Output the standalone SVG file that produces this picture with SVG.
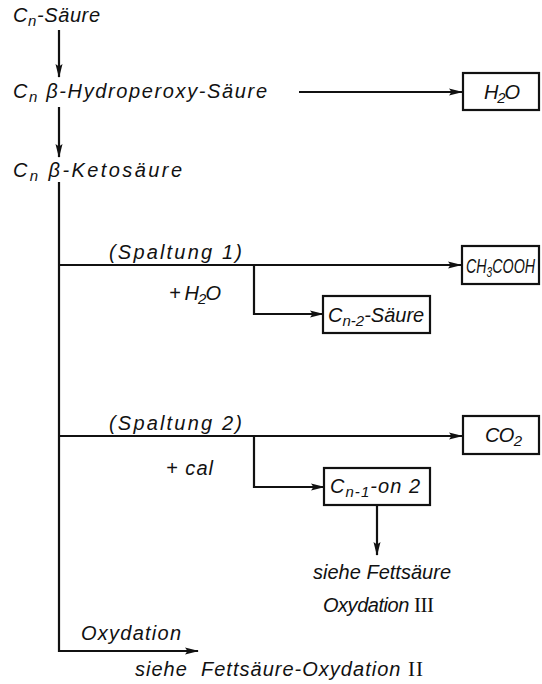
<svg xmlns="http://www.w3.org/2000/svg" width="542" height="684" viewBox="0 0 542 684">
<style>
text{font-family:"Liberation Sans",Arial,sans-serif;font-style:italic;font-size:20px;fill:#111;}
.s{font-size:15px;}
.rn{font-family:"Liberation Serif","Times New Roman",serif;font-style:normal;font-size:21px;}
.ln{stroke:#111;stroke-width:2.2;fill:none;}
.bx{stroke:#111;stroke-width:2.2;fill:#fff;}
</style>
<defs>
<marker id="ah" viewBox="0 0 14 9" refX="13" refY="4.5" markerWidth="14" markerHeight="9" markerUnits="userSpaceOnUse" orient="auto">
<path d="M0,1 L14,4.5 L0,8 L2.5,4.5 Z" fill="#111"/>
</marker>
</defs>
<g id="connectors">
<line class="ln" x1="59" y1="30" x2="59" y2="77" marker-end="url(#ah)"/>
<line class="ln" x1="59" y1="107" x2="59" y2="157" marker-end="url(#ah)"/>
<line class="ln" x1="299" y1="92" x2="462" y2="92" marker-end="url(#ah)"/>
<polyline class="ln" points="59,182 59,651 198,651" marker-end="url(#ah)"/>
<line class="ln" x1="59" y1="265" x2="461" y2="265" marker-end="url(#ah)"/>
<polyline class="ln" points="254,265 254,314 323,314" marker-end="url(#ah)"/>
<line class="ln" x1="59" y1="436" x2="462" y2="436" marker-end="url(#ah)"/>
<polyline class="ln" points="254,436 254,487 324,487" marker-end="url(#ah)"/>
<line class="ln" x1="377" y1="505" x2="377" y2="555" marker-end="url(#ah)"/>
</g>
<g id="n-cn-saeure"><text x="13" y="22" textLength="87">C<tspan class="s" dy="4">n</tspan><tspan dy="-4">-Säure</tspan></text></g>
<g id="n-hydroperoxy"><text x="13" y="98" textLength="254">C<tspan class="s" dy="4">n</tspan><tspan dy="-4"> β-Hydroperoxy-Säure</tspan></text></g>
<g id="n-ketosaeure"><text x="13" y="177" textLength="169">C<tspan class="s" dy="4">n</tspan><tspan dy="-4"> β-Ketosäure</tspan></text></g>
<g id="n-h2o"><rect class="bx" x="463" y="73" width="76" height="37"/><text x="484" y="99" textLength="36">H<tspan class="s" dy="4">2</tspan><tspan dy="-4">O</tspan></text></g>
<g id="l-spaltung1"><text x="109" y="259" textLength="133">(Spaltung 1)</text></g>
<g id="l-h2o"><text x="169" y="300" textLength="52">+ H<tspan class="s" dy="4">2</tspan><tspan dy="-4">O</tspan></text></g>
<g id="n-ch3cooh"><rect class="bx" x="462" y="246" width="77" height="38"/><text transform="translate(466,273) scale(0.68,1)" x="0" y="0" style="font-size:21px">CH<tspan class="s" dy="4">3</tspan><tspan dy="-4">COOH</tspan></text></g>
<g id="n-cn2"><rect class="bx" x="323" y="296" width="107" height="37"/><text x="328" y="322">C<tspan class="s" dy="4">n-2</tspan><tspan dy="-4">-Säure</tspan></text></g>
<g id="l-spaltung2"><text x="109" y="430" textLength="133">(Spaltung 2)</text></g>
<g id="l-cal"><text x="166" y="475" textLength="47">+ cal</text></g>
<g id="n-co2"><rect class="bx" x="463" y="416" width="76" height="38"/><text x="485" y="442" textLength="37">CO<tspan class="s" dy="4">2</tspan></text></g>
<g id="n-cn1on2"><rect class="bx" x="324" y="468" width="106" height="37"/><text x="330" y="493" textLength="90">C<tspan class="s" dy="4">n-1</tspan><tspan dy="-4">-on 2</tspan></text></g>
<g id="l-fett3"><text x="313" y="579" textLength="138">siehe Fettsäure</text><text x="323" y="612" textLength="111">Oxydation <tspan class="rn">III</tspan></text></g>
<g id="l-oxydation"><text x="81" y="640" textLength="100">Oxydation</text></g>
<g id="l-fett2"><text x="135" y="676" textLength="288" xml:space="preserve">siehe  Fettsäure-Oxydation <tspan class="rn">II</tspan></text></g>
</svg>
